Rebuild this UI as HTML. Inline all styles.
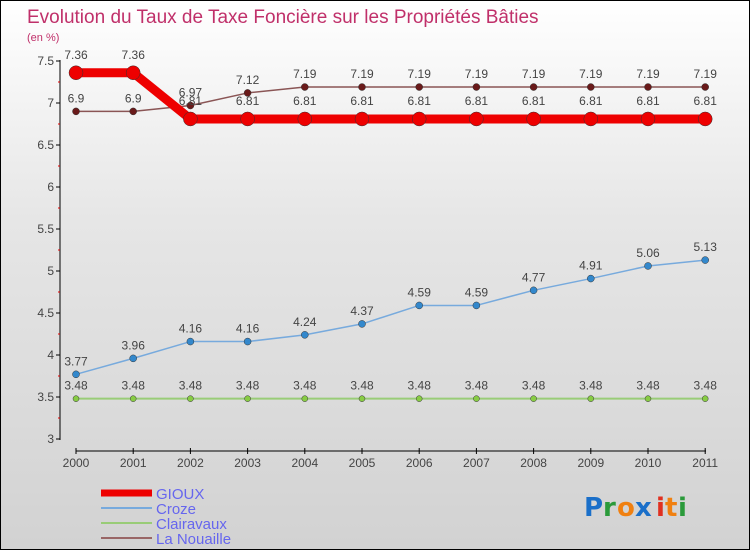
<!DOCTYPE html>
<html><head><meta charset="utf-8"><style>
html,body{margin:0;padding:0}
body{width:750px;height:550px;overflow:hidden;font-family:"Liberation Sans",sans-serif}
#wrap{position:relative;width:748px;height:548px;border:1px solid #000;background:linear-gradient(#ffffff 0%,#e6e6e6 40%,#d2d2d2 100%)}
</style></head><body>
<div id="wrap">
<svg id="chart" width="748" height="548" xmlns="http://www.w3.org/2000/svg" font-family="Liberation Sans, sans-serif">
<text x="26" y="22" font-size="19" fill="#c0306a">Evolution du Taux de Taxe Foncière sur les Propriétés Bâties</text>
<text x="26" y="40" font-size="11" fill="#c0306a">(en %)</text>
<g id="axes"></g>
<g id="series"></g>
<g id="legend"></g>
<g font-size="26" font-family="DejaVu Sans, sans-serif" font-weight="bold">
<text x="583" y="515" fill="#1a6fc9">P</text><text x="602" y="515" fill="#2a9a3a">r</text><text x="616" y="515" fill="#f08010">o</text><text x="634" y="515" fill="#1a6fc9">x</text><text x="655" y="515" fill="#e03020">i</text><text x="664" y="515" fill="#f08010">t</text><text x="677" y="515" fill="#2a9a3a">i</text>
</g>
</svg>
</div>
<script>
const years=[2000,2001,2002,2003,2004,2005,2006,2007,2008,2009,2010,2011];
const gioux=[7.36,7.36,6.81,6.81,6.81,6.81,6.81,6.81,6.81,6.81,6.81,6.81];
const croze=[3.77,3.96,4.16,4.16,4.24,4.37,4.59,4.59,4.77,4.91,5.06,5.13];
const clairavaux=[3.48,3.48,3.48,3.48,3.48,3.48,3.48,3.48,3.48,3.48,3.48,3.48];
const nouaille=[6.9,6.9,6.97,7.12,7.19,7.19,7.19,7.19,7.19,7.19,7.19,7.19];
const yTicks=[3,3.5,4,4.5,5,5.5,6,6.5,7,7.5];
const NS="http://www.w3.org/2000/svg";
const x=i=>75+i*57.2;
const y=v=>438-(v-3)*(378/4.5);
function mk(tag,attrs,parent){const e=document.createElementNS(NS,tag);for(const k in attrs)e.setAttribute(k,attrs[k]);parent.appendChild(e);return e;}
const axes=document.getElementById('axes');
let a=mk('line',{x1:59,y1:59,x2:59,y2:439,stroke:'#000','stroke-width':1},axes);


yTicks.forEach(v=>{
 const t=mk('line',{x1:55,x2:59,y1:y(v),y2:y(v),stroke:'#000'},axes);
 
 
 if(v<7.5){const m=mk('line',{x1:57,x2:59,y1:y(v+0.25),y2:y(v+0.25),stroke:'#e00000'},axes);
 
 }
 const l=mk('text',{x:53,y:y(v)+4,'font-size':12,fill:'#444','text-anchor':'end'},axes);l.textContent=v;
 
 
});
a=mk('line',{x1:75,y1:450,x2:705,y2:450,stroke:'#000'},axes);


years.forEach((yr,i)=>{
 const t=mk('line',{x1:x(i),x2:x(i),y1:447,y2:453,stroke:'#000'},axes);
 
 
 const l=mk('text',{x:x(i),y:466,'font-size':12,fill:'#444','text-anchor':'middle'},axes);l.textContent=yr;
 
 
});
const S=document.getElementById('series');
function series(vals,color,dot,w,r,name,lblDy){
 const g=mk('g',{},S);
 
 
 const p=mk('polyline',{points:vals.map((v,i)=>x(i)+','+y(v)).join(' '),fill:'none',stroke:color,'stroke-width':w,'stroke-linejoin':'round'},g);
 
 
 vals.forEach((v,i)=>{
  const c=mk('circle',{cx:x(i),cy:y(v),r:r,fill:dot,stroke:'#333','stroke-width':0.5},g);
  
  
  const t=mk('text',{x:x(i),y:y(v)+lblDy,'font-size':12,fill:'#444','text-anchor':'middle'},g);t.textContent=v;
  
  
 });
}
series(clairavaux,'#99cc77','#88cc44',2,3,'clairavaux',-9);
series(croze,'#77aadd','#3388cc',1.5,3.5,'croze',-9);
series(nouaille,'#8a5555','#6a1a1a',1.5,3.5,'la-nouaille',-9);
series(gioux,'#ee0000','#ee0000',9,7,'gioux',-14);
const L=document.getElementById('legend');
const lg=[['GIOUX','#ee0000',7],['Croze','#77aadd',2],['Clairavaux','#99cc77',2],['La Nouaille','#996666',2]];
lg.forEach((d,i)=>{
 const yy=492+i*15;
 const ln=mk('line',{x1:100,x2:151,y1:yy,y2:yy,stroke:d[1],'stroke-width':d[2]},L);
 
 
 const t=mk('text',{x:155,y:yy+6,'font-size':15,fill:'#6666ee'},L);t.textContent=d[0];
 
 
});
</script>
</body></html>
